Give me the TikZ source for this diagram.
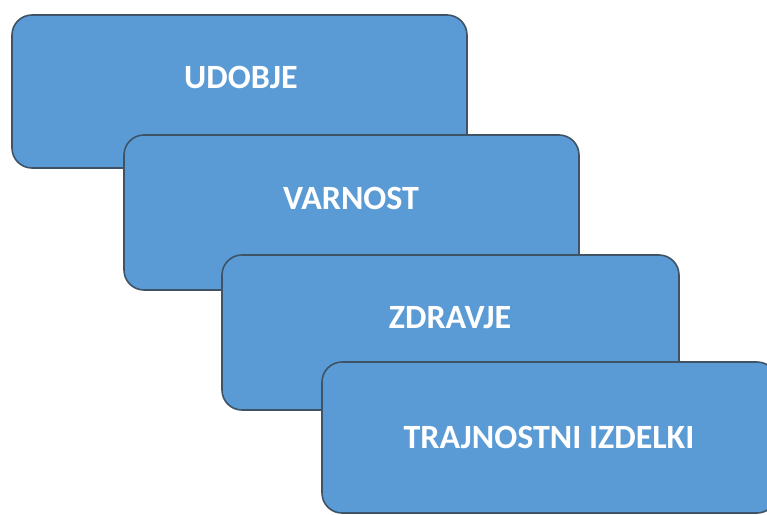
\documentclass[tikz,border=0pt]{standalone}
\usepackage{fontspec}
\setmainfont{Carlito}
\definecolor{boxfill}{HTML}{5B9BD5}
\definecolor{boxline}{HTML}{3E5366}
\begin{document}
\begin{tikzpicture}[x=1pt,y=-1pt,
  card/.style={draw=boxline, fill=boxfill, line width=1.6pt, rounded corners=20pt},
  lbl/.style={text=white, font=\bfseries\fontsize{34}{38}\selectfont, inner sep=0pt}]
\fill[white] (0,0) rectangle (767,514);
\useasboundingbox (0,0) rectangle (767,514);
\clip (0,0) rectangle (767,514);
\draw[card] (12,15) rectangle (467,168);
\node[lbl] (t1) at (241,77) {UDOBJE};
\draw[card] (124,135) rectangle (579,290);
\node[lbl] (t2) at (351,198) {VARNOST};
\draw[card] (222,255) rectangle (679,410);
\node[lbl] (t3) at (450,318) {ZDRAVJE};
\draw[card] (322,362) rectangle (777,513);
\node[lbl] (t4) at (549,437) {TRAJNOSTNI IZDELKI};
\end{tikzpicture}
\end{document}
